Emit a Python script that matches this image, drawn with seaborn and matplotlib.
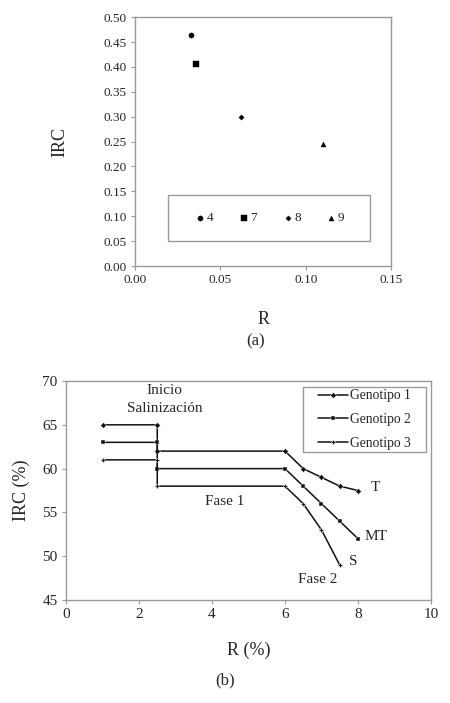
import numpy as np
import pandas as pd
import matplotlib
matplotlib.use("Agg")
import matplotlib.pyplot as plt
from matplotlib.patches import Rectangle
import seaborn as sns

# (a) dispersión IRC vs R
etiquetas_a = ['4', '7', '8', '9']
r_a = [0.033, 0.036, 0.062, 0.110]
irc_a = [0.465, 0.405, 0.300, 0.245]
marcadores_a = {'4': 'o', '7': 's', '8': 'D', '9': '^'}
tamanos_a = {'4': 14, '7': 13, '8': 7, '9': 13}

# (b) curvas por genotipo
genotipos = ['Genotipo 1', 'Genotipo 2', 'Genotipo 3']
r_g1 = [1, 2.5, 2.5, 6, 6.5, 7, 7.5, 8]
irc_g1 = [65, 65, 62, 62, 60, 59, 58, 57.5]
r_g2 = [1, 2.5, 2.5, 6, 6.5, 7, 7.5, 8]
irc_g2 = [63, 63, 60, 60, 58, 56, 54, 52]
r_g3 = [1, 2.5, 2.5, 6, 6.5, 7, 7.5]
irc_g3 = [61, 61, 58, 58, 56, 53, 49]
marcadores_b = {'Genotipo 1': 'D', 'Genotipo 2': 's', 'Genotipo 3': 'P'}

sns.set_theme(style="white")
plt.rcParams['font.family'] = ['Liberation Serif', 'DejaVu Serif']

gris = '#9a9a9a'

fig = plt.figure(figsize=(4.5, 7.03), dpi=100)

# ---------- panel (a) ----------
ax1 = fig.add_axes([0.30, 0.6216, 0.569, 0.354])
df_a = pd.DataFrame({'R': r_a, 'IRC': irc_a, 'lab': etiquetas_a})
for lab in etiquetas_a:
    sub = df_a[df_a['lab'] == lab]
    sns.scatterplot(data=sub, x='R', y='IRC', marker=marcadores_a[lab],
                    s=tamanos_a[lab], color='black', edgecolor='black',
                    linewidth=0.3, label=lab, ax=ax1)
ax1.set_xlim(0, 0.15)
ax1.set_ylim(0, 0.5)
ax1.set_xticks(np.arange(0, 0.151, 0.05))
ax1.set_yticks(np.arange(0, 0.501, 0.05))
ax1.xaxis.set_major_formatter(matplotlib.ticker.FormatStrFormatter('%.2f'))
ax1.yaxis.set_major_formatter(matplotlib.ticker.FormatStrFormatter('%.2f'))
ax1.tick_params(axis='both', direction='out', length=3, width=0.8,
                color=gris, labelsize=9.5, pad=3, left=True, bottom=True)
for s in ax1.spines.values():
    s.set_color(gris)
    s.set_linewidth(1.0)
ax1.set_xlabel('R', fontsize=13, labelpad=17.5)
ax1.set_ylabel('IRC', fontsize=13, labelpad=25)

# caja de la leyenda, como en el original (más ancha que alta)
caja = (0.129, 0.1004, 0.789, 0.185)
ax1.add_patch(Rectangle(caja[:2], caja[2], caja[3], transform=ax1.transAxes,
                        fill=False, edgecolor=gris, linewidth=1.0, zorder=4))
h, l = ax1.get_legend_handles_labels()
ax1.legend(h, l, ncol=4, loc='center', bbox_to_anchor=caja,
           fontsize=9.5, frameon=False, borderpad=0.5,
           handletextpad=0.0, columnspacing=1.8, handlelength=1.0)
fig.text(0.569, 1 - 341 / 703, '(a)', fontsize=12, ha='center', va='center')

# ---------- panel (b) ----------
ax2 = fig.add_axes([0.1467, 0.1465, 0.811, 0.3115])
df_b = pd.concat([
    pd.DataFrame({'R': r_g1, 'IRC': irc_g1, 'gen': genotipos[0]}),
    pd.DataFrame({'R': r_g2, 'IRC': irc_g2, 'gen': genotipos[1]}),
    pd.DataFrame({'R': r_g3, 'IRC': irc_g3, 'gen': genotipos[2]}),
], ignore_index=True)
sns.lineplot(data=df_b, x='R', y='IRC', style='gen', markers=marcadores_b,
             dashes=False, sort=False, estimator=None, color='#111111',
             linewidth=1.1, markersize=3, markeredgewidth=0.3, ax=ax2)
ax2.set_xlim(0, 10)
ax2.set_ylim(45, 70)
ax2.set_xticks(range(0, 11, 2))
ax2.set_yticks(range(45, 71, 5))
ax2.tick_params(axis='both', direction='out', length=3, width=0.8,
                color=gris, labelsize=11, pad=3, left=True, bottom=True)
for s in ax2.spines.values():
    s.set_color(gris)
    s.set_linewidth(1.0)
ax2.set_xlabel('R (%)', fontsize=13, labelpad=15)
ax2.set_ylabel('IRC (%)', fontsize=13, labelpad=9)

caja_b = (0.649, 0.676, 0.337, 0.297)
ax2.add_patch(Rectangle(caja_b[:2], caja_b[2], caja_b[3], transform=ax2.transAxes,
                        fill=False, edgecolor=gris, linewidth=1.0, zorder=4))
h, l = ax2.get_legend_handles_labels()
ax2.legend(h, l, loc='center', bbox_to_anchor=caja_b, fontsize=9.8,
           frameon=False, borderpad=0.0, labelspacing=0.78,
           handlelength=2.2, handletextpad=0.2, borderaxespad=0)

ax2.text(2.7, 68.9, 'Inicio', fontsize=11, ha='center', va='center')
ax2.text(2.7, 66.9, 'Salinización', fontsize=11, ha='center', va='center')
ax2.text(4.36, 56.3, 'Fase 1', fontsize=11, ha='center', va='center')
ax2.text(6.9, 47.3, 'Fase 2', fontsize=11, ha='center', va='center')
ax2.text(8.47, 57.9, 'T', fontsize=11, ha='center', va='center')
ax2.text(8.5, 52.2, 'MT', fontsize=11, ha='center', va='center')
ax2.text(7.87, 49.4, 'S', fontsize=11, ha='center', va='center')

fig.text(0.5, 1 - 680 / 703, '(b)', fontsize=12, ha='center', va='center')

fig.savefig('out.png', dpi=100, facecolor='white')
